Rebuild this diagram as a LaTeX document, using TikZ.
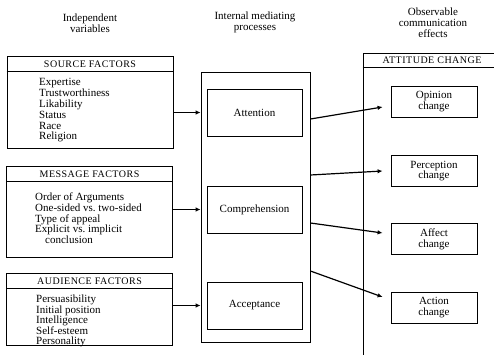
\documentclass[tikz,border=0pt]{standalone}
\usepackage{fontspec}
\setmainfont{Liberation Serif}
\newfontfamily\capsfont[LetterSpace=5]{Liberation Serif}
\usepackage{tikz}
\usetikzlibrary{positioning}
\usetikzlibrary{arrows.meta}

\tikzset{
  factbox/.style={draw,line width=.9pt,minimum width=166pt,inner sep=0pt},
  procbox/.style={draw,line width=.8pt,minimum width=95pt,minimum height=47pt,inner sep=0pt},
  effbox/.style={draw,line width=.8pt,minimum width=86pt,minimum height=31pt,inner sep=0pt,align=center},
  headtext/.style={font=\capsfont,inner sep=0pt},
  itemlist/.style={align=left,inner sep=0pt},
  arr/.style={-{Latex[length=5pt,width=4.5pt]},line width=1.2pt}
}

\begin{document}
\begin{tikzpicture}[x=1pt,y=-1pt,font=\fontsize{11}{10.8}\selectfont]
        \useasboundingbox (0,0) rectangle (494,355);

        \node[align=center] (hIndep) at (90,23.5) {Independent\\variables};
        \node[align=center] (hProc) at (255,22.5) {Internal mediating\\processes};
        \node[align=center] (hObs) at (433,23) {Observable\\communication\\effects};

        \node[factbox,minimum height=92pt] (src) at (90,102) {};
        \node[headtext] (srcHead) at (90,64.5) {SOURCE FACTORS};
        \draw[line width=.8pt] (src.west |- 0,71) -- (src.east |- 0,71);
        \node[itemlist,anchor=north west] (srcItems) at (39,78.5)
          {Expertise\\Trustworthiness\\Likability\\Status\\Race\\Religion};

        \node[factbox,minimum height=91pt] (msg) at (89.5,211.5) {};
        \node[headtext] (msgHead) at (89.5,174.5) {MESSAGE FACTORS};
        \draw[line width=.8pt] (msg.west |- 0,181) -- (msg.east |- 0,181);
        \node[itemlist,anchor=north west] (msgItems) at (35,192.5)
          {Order of Arguments\\One-sided vs.\ two-sided\\Type of appeal\\Explicit vs.\ implicit\\\hspace{10pt}conclusion};

        \node[factbox,minimum height=72pt] (aud) at (89.5,309) {};
        \node[headtext] (audHead) at (89.5,281) {AUDIENCE FACTORS};
        \draw[line width=.8pt] (aud.west |- 0,288) -- (aud.east |- 0,288);
        \node[itemlist,anchor=north west,font=\fontsize{11}{10.4}\selectfont] (audItems) at (36,295)
          {Persuasibility\\Initial position\\Intelligence\\Self-esteem\\Personality};

        \node[draw,line width=.8pt,minimum width=109pt,minimum height=270pt,inner sep=0pt] (mid) at (255.5,207) {};
        \node[procbox] (attn) at (254.5,112.5) {Attention};
        \node[procbox] (comp) at (254.5,209.5) {Comprehension};
        \node[procbox] (acc) at (254.5,305.5) {Acceptance};

        \node[draw,line width=.8pt,minimum width=134pt,minimum height=305pt,inner sep=0pt] (att) at (430,205.5) {};
        \node[headtext] (attHead) at (432,60) {ATTITUDE CHANGE};
        \draw[line width=.8pt] (att.west |- 0,67) -- (att.east |- 0,67);

        \node[effbox] (opin) at (434,101.5) {Opinion\\change};
        \node[effbox] (perc) at (434,171) {Perception\\change};
        \node[effbox] (affc) at (434,239) {Affect\\change};
        \node[effbox] (actn) at (434,307.5) {Action\\change};

        \draw[arr] (src.east |- attn) -- (mid.west |- attn);
        \draw[arr] (msg.east |- comp) -- (mid.west |- comp);
        \draw[arr] (aud.east |- acc) -- (mid.west |- acc);

        \draw[arr] (mid.east |- 0,119) -- ([shift={(-8,5.5)}]opin.west);
        \draw[arr] (mid.east |- 0,175) -- ([shift={(-8,0)}]perc.west);
        \draw[arr] (mid.east |- 0,223) -- ([shift={(-8,-6)}]affc.west);
        \draw[arr] (mid.east |- 0,271) -- ([shift={(-8,-10.5)}]actn.west);
      \end{tikzpicture}
\end{document}
